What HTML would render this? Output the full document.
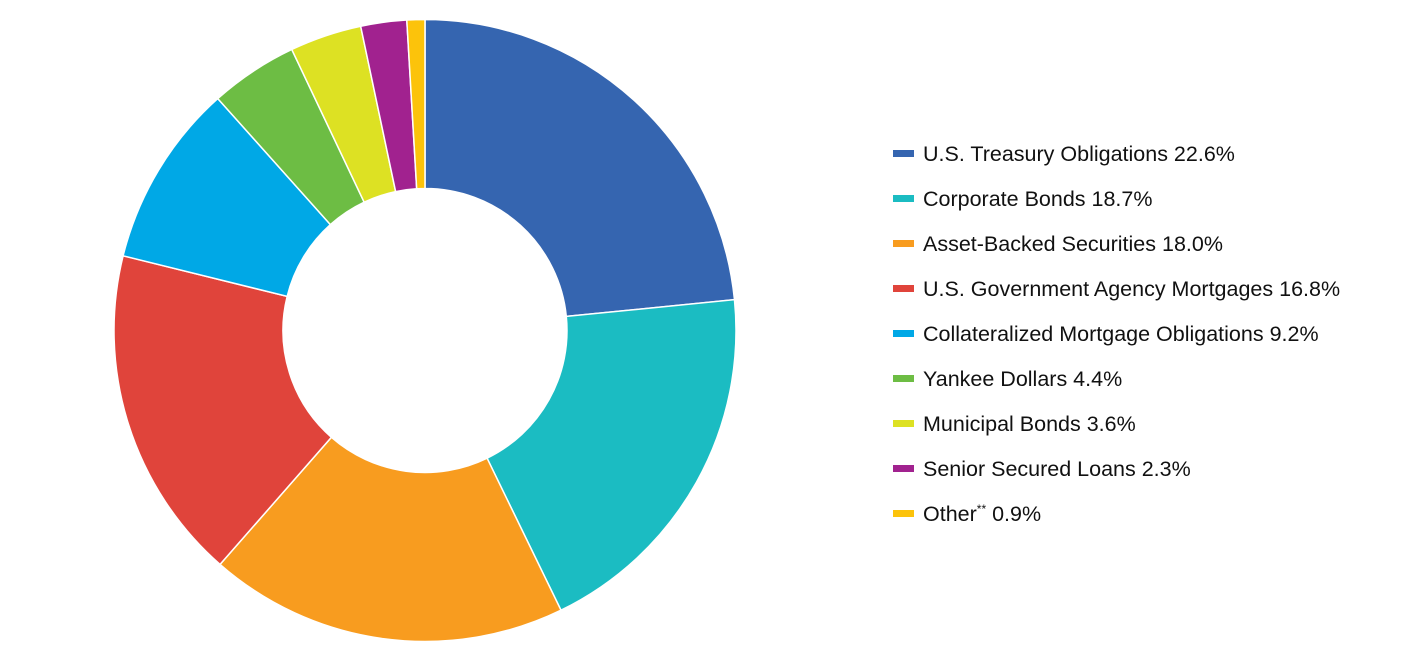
<!DOCTYPE html>
<html><head><meta charset="utf-8"><style>
html,body{margin:0;padding:0;background:#fff;}
body{width:1428px;height:672px;overflow:hidden;position:relative;font-family:"Liberation Sans",Arial,sans-serif;}
.leg{position:absolute;left:893px;font-size:21.5px;color:#111;height:26px;line-height:26px;white-space:nowrap;}
.leg i{display:inline-block;width:21px;height:7px;vertical-align:middle;margin-right:9px;position:relative;top:-2px;}
sup{font-size:12px;line-height:0;}
</style></head><body>
<svg id="chart" width="1428" height="672" style="position:absolute;left:0;top:0"></svg>
<div id="legend"></div>
<script>
const categories=["U.S. Treasury Obligations","Corporate Bonds","Asset-Backed Securities","U.S. Government Agency Mortgages","Collateralized Mortgage Obligations","Yankee Dollars","Municipal Bonds","Senior Secured Loans","Other"];
const values=[22.6,18.7,18.0,16.8,9.2,4.4,3.6,2.3,0.9];
const labels=["22.6%","18.7%","18.0%","16.8%","9.2%","4.4%","3.6%","2.3%","0.9%"];
const colors=["#3565b0","#1bbcc2","#f89c1f","#e0443b","#00a8e6","#6dbd44","#dde123","#a1228f","#fcc30b"];
const cx=425,cy=330.5,R=311,r=142;
const svg=document.getElementById('chart');
const total=values.reduce((a,b)=>a+b,0);
function pt(a,rad){return [cx+rad*Math.sin(a),cy-rad*Math.cos(a)];}
let a0=0;
values.forEach((v,i)=>{
  const a1=a0+v/total*2*Math.PI;
  const lg=(a1-a0)>Math.PI?1:0;
  const [x0,y0]=pt(a0,R),[x1,y1]=pt(a1,R),[x2,y2]=pt(a1,r),[x3,y3]=pt(a0,r);
  const p=document.createElementNS('http://www.w3.org/2000/svg','path');
  p.setAttribute('d',`M${x0},${y0}A${R},${R} 0 ${lg} 1 ${x1},${y1}L${x2},${y2}A${r},${r} 0 ${lg} 0 ${x3},${y3}Z`);
  p.setAttribute('fill',colors[i]);
  p.setAttribute('stroke','#fff');
  p.setAttribute('stroke-width','1.5');
  
  
  svg.appendChild(p);
  a0=a1;
});
const leg=document.getElementById('legend');
categories.forEach((c,i)=>{
  const d=document.createElement('div');
  d.className='leg';
  d.style.top=(141+i*45)+'px';
  
  
  d.innerHTML=`<i style="background:${colors[i]}"></i>${c}${c==='Other'?'<sup>**</sup>':''} ${labels[i]}`;
  leg.appendChild(d);
});
</script>
</body></html>
